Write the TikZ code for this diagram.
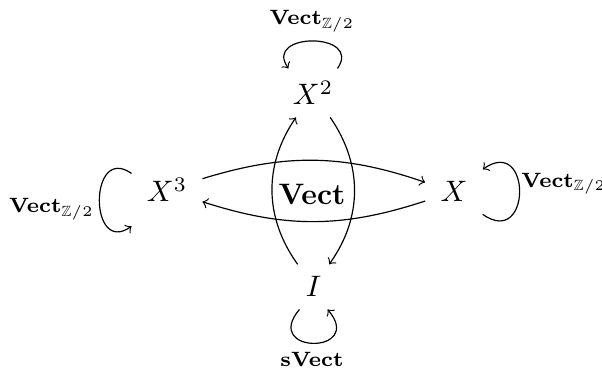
\documentclass[tikz,border=0pt]{standalone}
\usepackage{amsmath}
\usepackage{amssymb}
\usepackage{tikz}

\begin{document}
\begin{tikzpicture}[baseline=(current bounding box.center),
  obj/.style={anchor=base, inner xsep=5pt, inner ysep=4pt},
  lab/.style={anchor=base, inner sep=0pt}]
  \useasboundingbox (-3.705,-2.138) rectangle (3.444,2.280);
  \node[obj] (x2) at (0.012,1.033) {$X^2$};
  \node[obj] (x3) at (-1.722,-0.119) {$X^3$};
  \node[obj] (x) at (1.686,-0.119) {$X$};
  \node[obj] (i) at (0.018,-1.247) {$I$};
  \node[obj] (vect) at (0,-0.143) {$\mathbf{Vect}$};
  \node[lab] (l2) at (0,1.983) {$\scriptstyle\mathbf{Vect}_{\mathbb{Z}/2}$};
  \node[lab] (l3) at (-3.094,-0.249) {$\scriptstyle\mathbf{Vect}_{\mathbb{Z}/2}$};
  \node[lab, anchor=base west] (l1) at (2.48,0.059) {$\scriptstyle\mathbf{Vect}_{\mathbb{Z}/2}$};
  \node[lab] (l0) at (0,-2.067) {$\scriptstyle\mathbf{sVect}$};
  \draw[->] (x3) to[bend left=18] (x);
  \draw[->] (x) to[bend left=18] (x3);
  \draw[->] (i) to[bend left=35] (x2);
  \draw[->] (x2) to[bend left=35] (i);
  \draw[->] (x2.45) to[out=55, in=125, distance=0.53cm] (x2.135);
  \draw[->] (x3.155) to[out=145, in=215, distance=0.62cm] ([yshift=-4pt]x3.south west);
  \draw[->] (x.south east) to[out=-35, in=35, distance=0.71cm] (x.north east);
  \draw[->] (i.238) to[out=230, in=310, distance=0.7cm] (i.302);
\end{tikzpicture}
\end{document}
